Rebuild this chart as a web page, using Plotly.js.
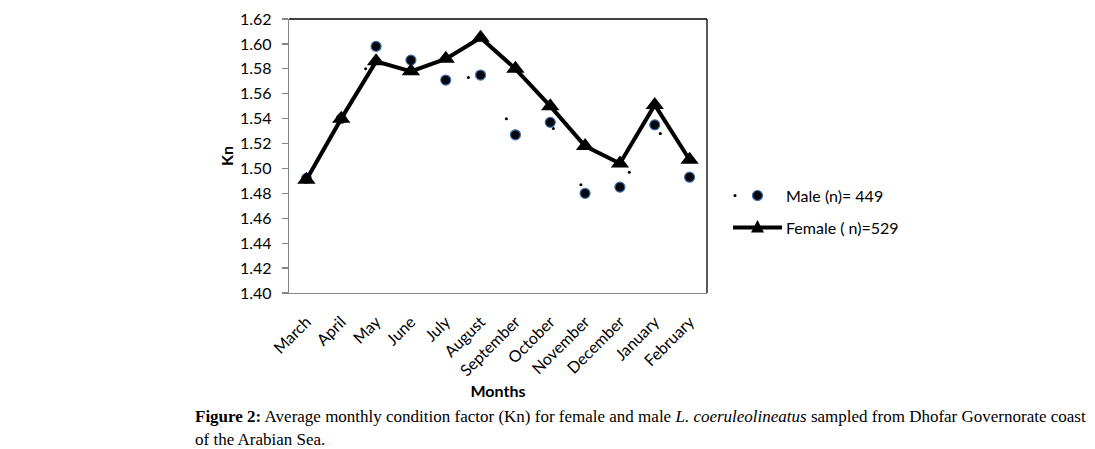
<!DOCTYPE html>
<html>
<head>
<meta charset="utf-8">
<script src="https://cdn.plot.ly/plotly-3.0.1.min.js"></script>
<style>
html,body{margin:0;padding:0;background:#fff;}
#chart{width:1095px;height:449px;}
</style>
</head>
<body>
<div id="chart"></div>
<script>
// ---- data ----
const months = ["March","April","May","June","July","August","September","October","November","December","January","February"];
const femaleKn = [1.491, 1.540, 1.586, 1.578, 1.588, 1.605, 1.580, 1.550, 1.518, 1.504, 1.551, 1.507];
const maleKn   = [1.492, 1.540, 1.598, 1.587, 1.571, 1.575, 1.527, 1.537, 1.480, 1.485, 1.535, 1.493];
// small stray dots of the male series (position along month axis, value)
const maleDotPos = [1.70, 4.65, 5.74, 7.09, 7.88, 9.27, 10.16];
const maleDotKn  = [1.580, 1.573, 1.540, 1.532, 1.487, 1.497, 1.528];
const yTicks = [1.40,1.42,1.44,1.46,1.48,1.50,1.52,1.54,1.56,1.58,1.60,1.62];
const legendMale = "Male (n)= 449";
const legendFemale = "Female ( n)=529";
const xTitle = "Months";
const yTitle = "Kn";
const caption1 = "<b>Figure 2:</b> Average monthly condition factor (Kn) for female and male <i>L. coeruleolineatus</i> sampled from Dhofar Governorate coast";
const caption2 = "of the Arabian Sea.";

const idx = months.map((m,i)=>i);
const FONT = "Lato, 'Open Sans', sans-serif";

// plot area in pixels
const W=1095, H=449, L=289, R=388, T=19, B=156;
const pw = W-L-R, ph = H-T-B;
const px = x => (x-L)/pw;      // pixel -> paper x
const py = y => (H-B-y)/ph;    // pixel -> paper y

const traces = [
  {x: maleDotPos, y: maleDotKn, type:'scatter', mode:'markers', showlegend:false,
   marker:{symbol:'circle', size:3, color:'#000'}, hoverinfo:'skip'},
  {x: idx, y: maleKn, type:'scatter', mode:'markers', name: legendMale, showlegend:false,
   marker:{symbol:'circle', size:10, color:'#05080f', line:{color:'#3d6fa8', width:1.2}}},
  {x: idx, y: femaleKn, type:'scatter', mode:'lines+markers', name: legendFemale, showlegend:false,
   line:{color:'#000', width:4}, marker:{symbol:'triangle-up', size:16, color:'#000'}}
];

// legend glyph geometry (pixels)
const lmY = 195.5, lfY = 227.5, gx = 757.5;
const tri = (cx, cy, s) => {
  const x0 = px(cx - s/2), x1 = px(cx + s/2), xm = px(cx);
  const yb = py(cy + s*0.38), yt = py(cy - s*0.58);
  return `M ${x0} ${yb} L ${x1} ${yb} L ${xm} ${yt} Z`;
};

const shapes = [
  {type:'line', xref:'paper', yref:'paper', x0:0, x1:1, y0:1, y1:1, line:{color:'#000', width:1.3}},
  {type:'line', xref:'paper', yref:'paper', x0:1, x1:1, y0:0, y1:1, line:{color:'#000', width:1.3}},
  // legend: male
  {type:'circle', xref:'paper', yref:'paper', x0:px(733.5), x1:px(736.5), y0:py(lmY+1.5), y1:py(lmY-1.5), fillcolor:'#000', line:{width:0}},
  {type:'circle', xref:'paper', yref:'paper', x0:px(gx-5), x1:px(gx+5), y0:py(lmY+5), y1:py(lmY-5), fillcolor:'#05080f', line:{color:'#3d6fa8', width:1.2}},
  // legend: female
  {type:'line', xref:'paper', yref:'paper', x0:px(733), x1:px(782), y0:py(lfY), y1:py(lfY), line:{color:'#000', width:4}},
  {type:'path', xref:'paper', yref:'paper', path: tri(gx, lfY, 13), fillcolor:'#000', line:{width:0}}
];

const capFont = {family:"'Liberation Serif', 'Times New Roman', serif", size:17, color:'#000'};
const annotations = [
  {text: legendMale, xref:'paper', yref:'paper', x:px(784), y:py(lmY), xanchor:'left', yanchor:'middle', showarrow:false, font:{family:FONT, size:16, color:'#000'}},
  {text: legendFemale, xref:'paper', yref:'paper', x:px(784), y:py(lfY), xanchor:'left', yanchor:'middle', showarrow:false, font:{family:FONT, size:16, color:'#000'}},
  {text: caption1, xref:'paper', yref:'paper', x:px(193), y:py(416), xanchor:'left', yanchor:'middle', showarrow:false, font:capFont},
  {text: caption2, xref:'paper', yref:'paper', x:px(193), y:py(440), xanchor:'left', yanchor:'middle', showarrow:false, font:capFont}
];

const layout = {
  width: W, height: H,
  margin:{l:L, r:R, t:T, b:B, pad:0},
  paper_bgcolor:'#fff', plot_bgcolor:'#fff',
  showlegend:false,
  font:{family:FONT, color:'#000', size:16},
  xaxis:{
    range:[-0.5, 11.5], tickmode:'array', tickvals: idx, ticktext: months,
    tickangle:-45, ticks:'', showgrid:false, zeroline:false,
    showline:true, linecolor:'#868686', linewidth:1.3,
    tickfont:{family:FONT, size:16, color:'#000'}, ticklabelstandoff:12,
    title:{text:"<b>"+xTitle+"</b>", font:{family:FONT, size:16, color:'#000'}, standoff:7},
    automargin:false, fixedrange:true
  },
  yaxis:{
    range:[1.40, 1.62], tickmode:'array', tickvals: yTicks, ticktext: yTicks.map(v=>v.toFixed(2)),
    ticks:'outside', ticklen:6, tickcolor:'#868686', tickwidth:1.3,
    showgrid:false, zeroline:false, showline:true, linecolor:'#868686', linewidth:1.3,
    tickfont:{family:FONT, size:16, color:'#000'}, ticklabelstandoff:7,
    title:{text:"<b>"+yTitle+"</b>", font:{family:FONT, size:16, color:'#000'}, standoff:2},
    automargin:false, fixedrange:true
  },
  shapes, annotations
};

Plotly.newPlot('chart', traces, layout, {displayModeBar:false, staticPlot:true});
</script>
</body>
</html>
